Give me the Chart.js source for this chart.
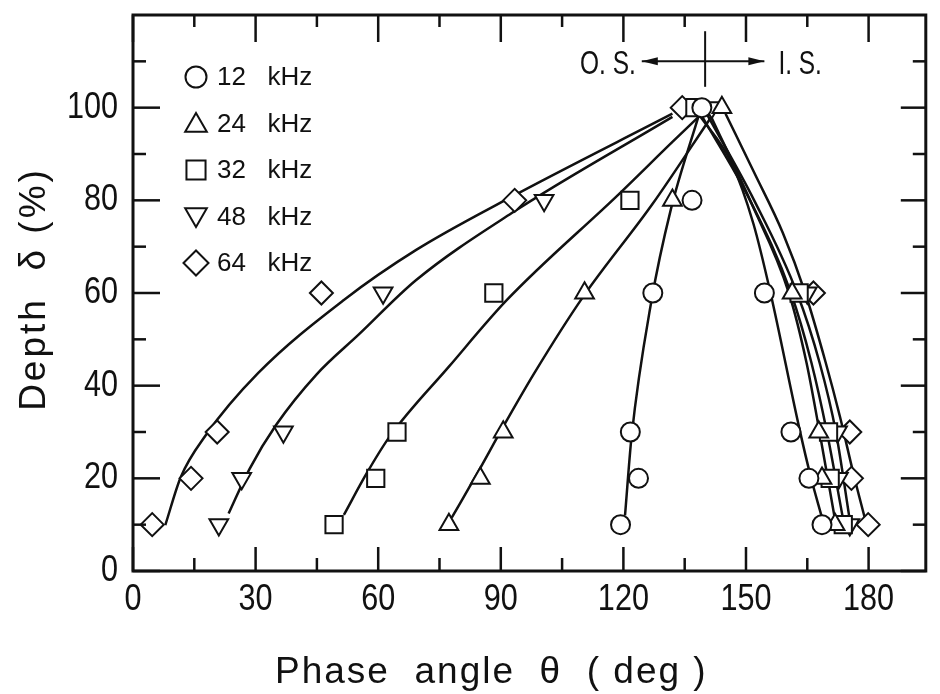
<!DOCTYPE html>
<html>
<head>
<meta charset="utf-8">
<title>Depth vs phase angle</title>
<script src="https://cdn.jsdelivr.net/npm/chart.js@4.4.1/dist/chart.umd.min.js"></script>
<style>
  html, body { margin: 0; padding: 0; background: #fff; }
  canvas { display: block; }
</style>
</head>
<body>
<canvas id="chart" width="940" height="694"></canvas>
<script>
// Data: phase angle (deg) vs depth (%)
const FREQS = ['12', '24', '32', '48', '64'];

// measured points, same depth order for every frequency (left branch, peak, right branch)
const DEPTH_MARKS = [10, 20, 30, 60, 80, 100, 60, 30, 20, 10];
const THETA_12 = [119.3, 123.7, 121.7, 127.2, 136.8, 139.2, 154.5, 161.0, 165.4, 168.6];
const THETA_24 = [77.3, 85.0, 90.6, 110.5, 132.0, 144.1, 161.3, 167.8, 168.6, 171.8];
const THETA_32 = [49.2, 59.4, 64.6, 88.3, 121.6, 137.5, 163.0, 170.2, 170.6, 173.8];
const THETA_48 = [21.0, 26.6, 36.8, 61.2, 100.6, 141.6, 165.0, 172.4, 172.6, 175.4];
const THETA_64 = [4.7, 14.2, 20.6, 46.1, 93.4, 134.4, 166.5, 175.4, 175.8, 179.9];

// hand-drawn fit curves, outer (O.S.) and inner (I.S.) side
const FIT_12_OS_THETA = [120.4, 122.0, 126.8, 131.6, 138.5];
const FIT_12_OS_DEPTH = [12.0, 29.0, 58.0, 78.0, 98.5];
const FIT_12_IS_THETA = [138.5, 146.5, 151.8, 156.0, 163.0, 165.8, 168.6];
const FIT_12_IS_DEPTH = [98.5, 88.0, 75.0, 60.0, 31.0, 20.5, 11.5];

const FIT_24_OS_THETA = [78.0, 84.2, 90.5, 98.2, 110.0, 127.2, 141.5];
const FIT_24_OS_DEPTH = [11.5, 21.0, 31.0, 42.7, 59.0, 79.3, 98.0];
const FIT_24_IS_THETA = [141.5, 151.0, 160.5, 164.8, 168.0, 171.8];
const FIT_24_IS_DEPTH = [98.0, 80.0, 60.0, 45.0, 30.0, 11.0];

const FIT_32_OS_THETA = [51.6, 57.2, 62.8, 77.3, 91.5, 119.1, 132.0, 139.0];
const FIT_32_OS_DEPTH = [12.1, 21.1, 29.0, 44.1, 58.5, 81.5, 92.6, 98.5];
const FIT_32_IS_THETA = [139.0, 151.0, 161.0, 166.0, 169.8, 173.8];
const FIT_32_IS_DEPTH = [98.5, 80.0, 60.0, 45.0, 30.0, 11.0];

const FIT_48_OS_THETA = [23.4, 28.5, 35.0, 45.0, 55.2, 69.3, 92.6, 132.0];
const FIT_48_OS_DEPTH = [12.4, 22.0, 31.5, 42.5, 51.0, 62.8, 77.2, 98.0];
const FIT_48_IS_THETA = [140.5, 152.0, 162.5, 168.0, 172.0, 175.4];
const FIT_48_IS_DEPTH = [98.5, 80.0, 60.0, 45.0, 30.0, 11.0];

const FIT_64_OS_THETA = [7.9, 11.7, 17.8, 30.6, 51.6, 69.3, 91.0, 132.0];
const FIT_64_OS_DEPTH = [9.9, 20.3, 29.3, 42.7, 58.5, 69.3, 80.0, 98.7];
const FIT_64_IS_THETA = [145.0, 152.0, 159.0, 164.5, 169.5, 173.0, 176.3, 179.2];
const FIT_64_IS_DEPTH = [98.7, 86.0, 73.0, 60.0, 45.0, 33.3, 21.0, 11.0];

const X_TICKS = [0, 30, 60, 90, 120, 150, 180];
const Y_TICKS = [0, 20, 40, 60, 80, 100];

// styles
const INK = '#111';
const TEXT_FONT = "'Liberation Sans', sans-serif";
const MARKERS = [
  { style: 'circle', radius: 9.5, rotation: 0, legendRadius: 10.5 },
  { style: 'triangle', radius: 10.8, rotation: 0, legendRadius: 12.5 },
  { style: 'rect', radius: 12.2, rotation: 0, legendRadius: 13.5 },
  { style: 'triangle', radius: 10.8, rotation: 180, legendRadius: 12.5 },
  { style: 'rectRot', radius: 11.5, rotation: 0, legendRadius: 12.5 }
];

const markSets = [THETA_12, THETA_24, THETA_32, THETA_48, THETA_64];
const fitSets = [
  [FIT_12_OS_THETA, FIT_12_OS_DEPTH], [FIT_12_IS_THETA, FIT_12_IS_DEPTH],
  [FIT_24_OS_THETA, FIT_24_OS_DEPTH], [FIT_24_IS_THETA, FIT_24_IS_DEPTH],
  [FIT_32_OS_THETA, FIT_32_OS_DEPTH], [FIT_32_IS_THETA, FIT_32_IS_DEPTH],
  [FIT_48_OS_THETA, FIT_48_OS_DEPTH], [FIT_48_IS_THETA, FIT_48_IS_DEPTH],
  [FIT_64_OS_THETA, FIT_64_OS_DEPTH], [FIT_64_IS_THETA, FIT_64_IS_DEPTH]
];

function toPoints(xs, ys) {
  return xs.map((x, i) => ({ x: x, y: ys[i] }));
}

const datasets = [];
// markers first so they sit on top of the curves
markSets.forEach((thetas, i) => {
  const m = MARKERS[i];
  datasets.push({
    label: FREQS[i] + ' kHz',
    data: toPoints(thetas, DEPTH_MARKS),
    showLine: false,
    pointStyle: m.style,
    pointRotation: m.rotation,
    pointRadius: m.radius,
    pointBackgroundColor: '#fff',
    pointBorderColor: INK,
    pointBorderWidth: 2,
    order: 0
  });
});
fitSets.forEach((fit, i) => {
  datasets.push({
    label: FREQS[Math.floor(i / 2)] + ' kHz fit',
    data: toPoints(fit[0], fit[1]),
    showLine: true,
    pointRadius: 0,
    borderColor: INK,
    borderWidth: 2.5,
    cubicInterpolationMode: 'monotone',
    fill: false,
    order: 1
  });
});

function line(ctx, x1, y1, x2, y2) {
  ctx.beginPath();
  ctx.moveTo(x1, y1);
  ctx.lineTo(x2, y2);
  ctx.stroke();
}

// narrow lettering like the original figure: squeeze text horizontally
function narrowText(ctx, text, x, y, sx) {
  ctx.save();
  ctx.translate(x, y);
  ctx.scale(sx, 1);
  ctx.fillText(text, 0, 0);
  ctx.restore();
}

// frame, inward ticks, tick labels, axis titles, legend and O.S./I.S. note
const decorations = {
  id: 'decorations',
  afterDraw(chart) {
    const ctx = chart.ctx;
    const a = chart.chartArea;
    const xs = chart.scales.x;
    const ys = chart.scales.y;
    ctx.save();
    ctx.strokeStyle = INK;
    ctx.fillStyle = INK;
    ctx.lineCap = 'butt';

    // ticks
    ctx.lineWidth = 2.5;
    const xStep = X_TICKS[1] - X_TICKS[0];
    X_TICKS.forEach(v => {
      const px = xs.getPixelForValue(v);
      line(ctx, px, a.bottom, px, a.bottom - 24);
      line(ctx, px, a.top, px, a.top + 27);
    });
    for (let v = X_TICKS[0] + xStep / 2; v < xs.max; v += xStep) {
      const px = xs.getPixelForValue(v);
      line(ctx, px, a.bottom, px, a.bottom - 13);
      line(ctx, px, a.top, px, a.top + 12);
    }
    const yStep = Y_TICKS[1] - Y_TICKS[0];
    for (let v = Y_TICKS[0]; v < ys.max; v += yStep) {
      const py = ys.getPixelForValue(v);
      line(ctx, a.left, py, a.left + 27, py);
      line(ctx, a.right, py, a.right - 25, py);
    }
    for (let v = Y_TICKS[0] + yStep / 2; v < ys.max; v += yStep) {
      const py = ys.getPixelForValue(v);
      line(ctx, a.left, py, a.left + 13, py);
      line(ctx, a.right, py, a.right - 13, py);
    }

    // frame
    ctx.lineWidth = 3;
    ctx.strokeRect(a.left, a.top, a.right - a.left, a.bottom - a.top);

    // tick labels
    ctx.font = '36px ' + TEXT_FONT;
    ctx.textBaseline = 'middle';
    ctx.textAlign = 'center';
    X_TICKS.forEach(v => narrowText(ctx, String(v), xs.getPixelForValue(v), a.bottom + 29, 0.85));
    ctx.textAlign = 'right';
    Y_TICKS.forEach(v => narrowText(ctx, String(v), a.left - 15, ys.getPixelForValue(v), 0.85));

    // axis titles
    ctx.font = '37px ' + TEXT_FONT;
    ctx.letterSpacing = '2px';
    ctx.textAlign = 'left';
    ctx.textBaseline = 'alphabetic';
    ctx.fillText('Phase  angle  θ  ( deg )', 275, 683);

    ctx.save();
    ctx.translate(45, 289);
    ctx.rotate(-Math.PI / 2);
    ctx.letterSpacing = '3px';
    ctx.textAlign = 'center';
    ctx.fillText('Depth  δ (%)', 0, 0);
    ctx.restore();
    ctx.letterSpacing = '0px';

    // legend
    ctx.font = '26px ' + TEXT_FONT;
    ctx.textBaseline = 'middle';
    ctx.textAlign = 'left';
    FREQS.forEach((f, i) => {
      const m = MARKERS[i];
      const cy = a.top + 62 + i * 46.5;
      ctx.lineWidth = 2;
      ctx.fillStyle = '#fff';
      Chart.helpers.drawPoint(ctx, {
        pointStyle: m.style,
        rotation: m.rotation,
        radius: m.legendRadius,
        borderWidth: 2
      }, a.left + 63, cy + (m.style === 'triangle' ? (m.rotation ? -2 : 2) : 0));
      ctx.fillStyle = INK;
      ctx.fillText(f + '   kHz', a.left + 84, cy + 1);
    });

    // O.S. / I.S. note at the top
    const cx = xs.getPixelForValue(140);
    const cy = ys.getPixelForValue(110);
    const xl = xs.getPixelForValue(124.5);
    const xr = xs.getPixelForValue(154.5);
    ctx.lineWidth = 2;
    line(ctx, xl, cy, xr, cy);
    line(ctx, cx, ys.getPixelForValue(116.5), cx, ys.getPixelForValue(104.5));
    ctx.beginPath();
    ctx.moveTo(xl, cy);
    ctx.lineTo(xl + 16, cy - 4);
    ctx.lineTo(xl + 16, cy + 4);
    ctx.closePath();
    ctx.fill();
    ctx.beginPath();
    ctx.moveTo(xr, cy);
    ctx.lineTo(xr - 16, cy - 4);
    ctx.lineTo(xr - 16, cy + 4);
    ctx.closePath();
    ctx.fill();
    ctx.font = '34px ' + TEXT_FONT;
    ctx.textBaseline = 'alphabetic';
    ctx.textAlign = 'right';
    narrowText(ctx, 'O. S.', xl - 6, cy + 13, 0.72);
    ctx.textAlign = 'left';
    narrowText(ctx, 'I. S.', xr + 14, cy + 13, 0.72);

    ctx.restore();
  }
};

const chart = new Chart(document.getElementById('chart'), {
  type: 'scatter',
  data: { datasets: datasets },
  options: {
    responsive: false,
    devicePixelRatio: 1,
    animation: false,
    layout: { padding: { top: 15, right: 2, left: 0, bottom: 0 } },
    plugins: {
      legend: { display: false },
      tooltip: { enabled: false }
    },
    scales: {
      x: {
        type: 'linear',
        min: 0,
        max: 194,
        afterBuildTicks: s => { s.ticks = X_TICKS.map(v => ({ value: v })); },
        afterFit: s => { s.height = 123; s.paddingLeft = 0; s.paddingRight = 0; },
        grid: { display: false, drawTicks: false },
        border: { display: false },
        ticks: { display: false }
      },
      y: {
        type: 'linear',
        min: 0,
        max: 120,
        afterBuildTicks: s => { s.ticks = Y_TICKS.map(v => ({ value: v })); },
        afterFit: s => { s.width = 133; s.paddingTop = 0; s.paddingBottom = 0; },
        grid: { display: false, drawTicks: false },
        border: { display: false },
        ticks: { display: false }
      }
    }
  },
  plugins: [decorations]
});
</script>
</body>
</html>
